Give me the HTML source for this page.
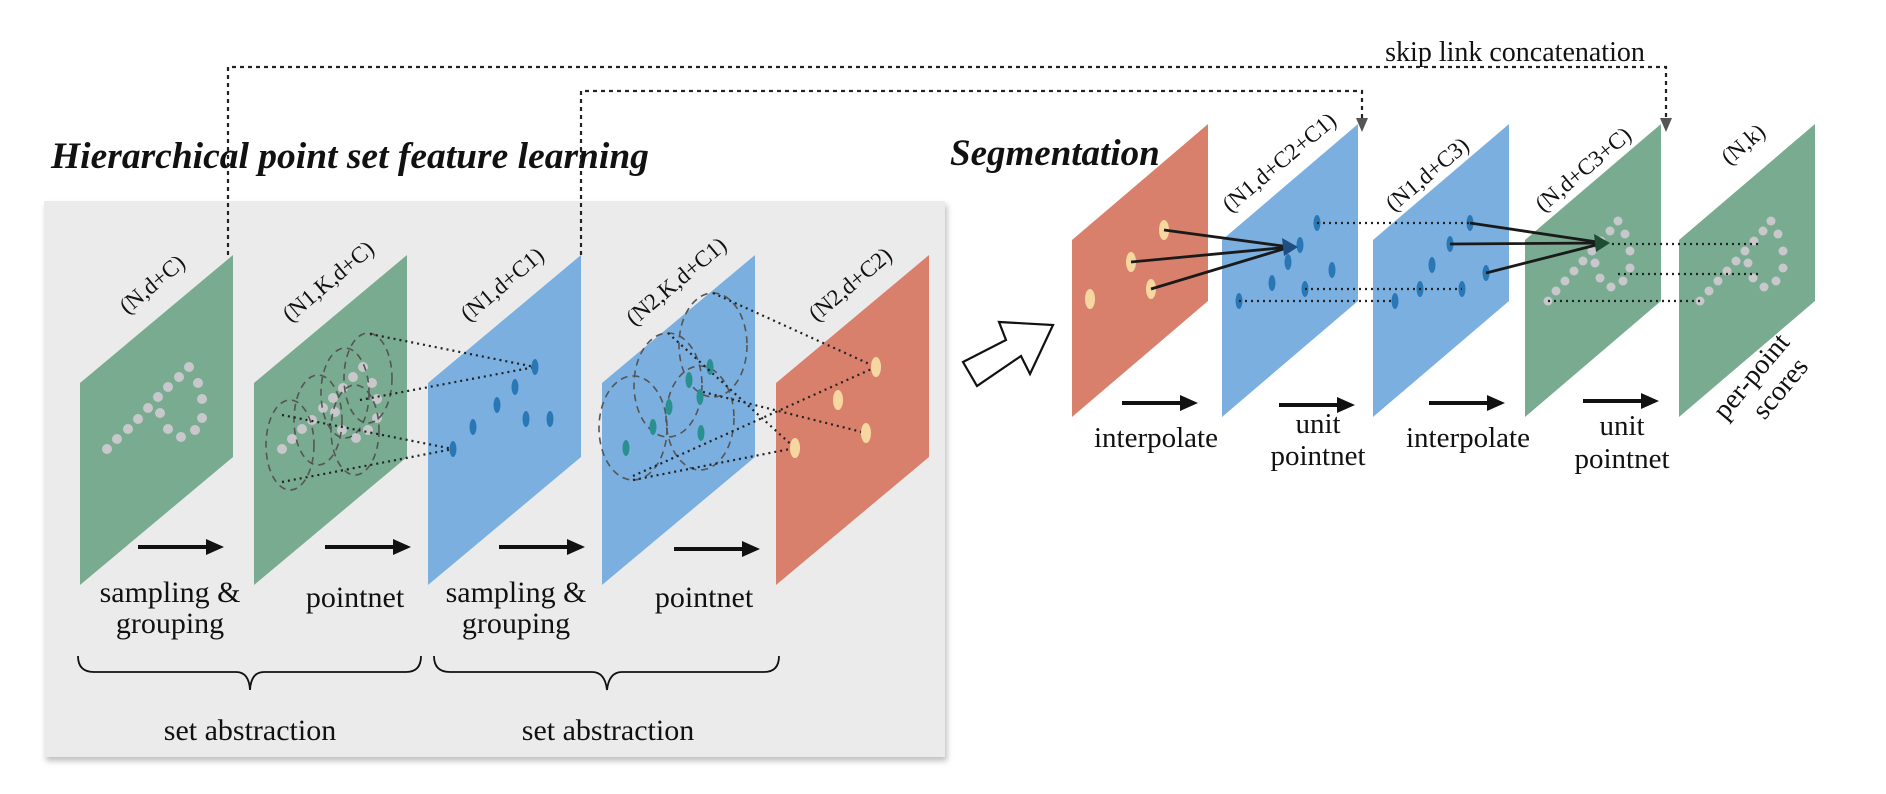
<!DOCTYPE html>
<html><head><meta charset="utf-8"><style>
html,body{margin:0;padding:0;background:#fff;}
svg{display:block;}
text{font-family:"Liberation Serif",serif;fill:#111;}
</style></head><body>
<svg width="1886" height="794" viewBox="0 0 1886 794" xmlns="http://www.w3.org/2000/svg">
<defs>
<filter id="sh" x="-5%" y="-5%" width="110%" height="115%"><feDropShadow dx="2" dy="4" stdDeviation="3" flood-color="#000" flood-opacity="0.25"/></filter>
<marker id="ah" markerWidth="18" markerHeight="16" refX="14" refY="8" orient="auto" markerUnits="userSpaceOnUse"><path d="M0,0 L18,8 L0,16 Z" fill="#111"/></marker>
</defs>
<rect x="44" y="201" width="901" height="556" fill="#ebebeb" filter="url(#sh)"/>
<text x="51" y="168" font-size="37.5" font-weight="bold" font-style="italic">Hierarchical point set feature learning</text>
<text x="950" y="165" font-size="37" font-weight="bold" font-style="italic">Segmentation</text>
<text x="1515" y="61" font-size="28" text-anchor="middle">skip link concatenation</text>
<g fill="none" stroke="#222" stroke-width="2.2" stroke-dasharray="4,4">
<path d="M228,255 V67 H1666 V120"/>
<path d="M581,255 V91 H1362 V120"/>
</g>
<path d="M1356,118 L1368,118 L1362,132 Z" fill="#555"/>
<path d="M1660,118 L1672,118 L1666,132 Z" fill="#555"/>
<g>
<polygon points="80,383 233,255 233,457 80,585" fill="#78ab90"/>
<polygon points="254,383 407,255 407,457 254,585" fill="#78ab90"/>
<polygon points="428,383 581,255 581,457 428,585" fill="#7aafe0"/>
<polygon points="602,383 755,255 755,457 602,585" fill="#7aafe0"/>
<polygon points="776,383 929,255 929,457 776,585" fill="#d9806c"/>
</g>
<g fill="#c8c8cc">
<circle cx="107" cy="449" r="5"/><circle cx="117" cy="439" r="5"/><circle cx="128" cy="429" r="5"/><circle cx="138" cy="419" r="5"/><circle cx="148" cy="408" r="5"/><circle cx="158" cy="397" r="5"/><circle cx="168" cy="387" r="5"/><circle cx="179" cy="377" r="5"/><circle cx="189" cy="367" r="5"/><circle cx="198" cy="383" r="5"/><circle cx="202" cy="399" r="5"/><circle cx="202" cy="418" r="5"/><circle cx="195" cy="430" r="5"/><circle cx="181" cy="437" r="5"/><circle cx="168" cy="429" r="5"/><circle cx="160" cy="413" r="5"/>
</g>
<g fill="#c8c8cc">
<circle cx="282" cy="449" r="5"/><circle cx="292" cy="439" r="5"/><circle cx="302" cy="429" r="5"/><circle cx="312" cy="420" r="5"/><circle cx="323" cy="408" r="5"/><circle cx="333" cy="398" r="5"/><circle cx="343" cy="388" r="5"/><circle cx="353" cy="377" r="5"/><circle cx="363" cy="367" r="5"/><circle cx="372" cy="383" r="5"/><circle cx="377" cy="399" r="5"/><circle cx="377" cy="418" r="5"/><circle cx="368" cy="430" r="5"/><circle cx="356" cy="438" r="5"/><circle cx="342" cy="430" r="5"/><circle cx="335" cy="412" r="5"/>
</g>
<g fill="none" stroke="#555" stroke-width="1.6" stroke-dasharray="7,5">
<ellipse cx="290" cy="445" rx="24" ry="45"/>
<ellipse cx="318" cy="420" rx="24" ry="45"/>
<ellipse cx="345" cy="393" rx="24" ry="45"/>
<ellipse cx="368" cy="378" rx="24" ry="45"/>
<ellipse cx="355" cy="430" rx="24" ry="45"/>
</g>
<g fill="none" stroke="#222" stroke-width="2.2" stroke-dasharray="2,4">
<path d="M370,334 L535,367 M360,400 L535,367 M282,415 L453,449 M282,482 L453,449"/>
</g>
<g fill="#2a77b5">
<ellipse cx="535" cy="367" rx="3.5" ry="8"/><ellipse cx="515" cy="387" rx="3.5" ry="8"/><ellipse cx="497" cy="405" rx="3.5" ry="8"/><ellipse cx="473" cy="427" rx="3.5" ry="8"/><ellipse cx="453" cy="449" rx="3.5" ry="8"/><ellipse cx="526" cy="419" rx="3.5" ry="8"/><ellipse cx="550" cy="419" rx="3.5" ry="8"/>
</g>
<g fill="none" stroke="#555" stroke-width="1.6" stroke-dasharray="7,5">
<ellipse cx="713" cy="345" rx="34" ry="52"/>
<ellipse cx="668" cy="385" rx="34" ry="52"/>
<ellipse cx="633" cy="428" rx="34" ry="52"/>
<ellipse cx="700" cy="418" rx="34" ry="52"/>
</g>
<g fill="#2a8f8f">
<ellipse cx="710" cy="367" rx="3.5" ry="8"/><ellipse cx="669" cy="407" rx="3.5" ry="8"/><ellipse cx="700" cy="397" rx="3.5" ry="8"/><ellipse cx="653" cy="427" rx="3.5" ry="8"/><ellipse cx="626" cy="448" rx="3.5" ry="8"/><ellipse cx="701" cy="433" rx="3.5" ry="8"/><ellipse cx="689" cy="380" rx="3.5" ry="8"/>
</g>
<g fill="none" stroke="#222" stroke-width="2.2" stroke-dasharray="2,4">
<path d="M713,293 L876,367 M668,333 L795,448 M633,476 L876,367 M703,392 L866,433 M633,480 L795,448"/>
</g>
<g fill="#f7d7a0">
<ellipse cx="876" cy="367" rx="5" ry="10"/><ellipse cx="838" cy="400" rx="5" ry="10"/><ellipse cx="866" cy="433" rx="5" ry="10"/><ellipse cx="795" cy="448" rx="5" ry="10"/>
</g>
<g font-size="23">
<text transform="translate(157,290) rotate(-40)" text-anchor="middle">(N,d+C)</text>
<text transform="translate(333,287) rotate(-40)" text-anchor="middle">(N1,K,d+C)</text>
<text transform="translate(507,290) rotate(-40)" text-anchor="middle">(N1,d+C1)</text>
<text transform="translate(681,287) rotate(-40)" text-anchor="middle">(N2,K,d+C1)</text>
<text transform="translate(855,290) rotate(-40)" text-anchor="middle">(N2,d+C2)</text>
</g>
<g stroke="#111" stroke-width="4" marker-end="url(#ah)">
<line x1="138" y1="547" x2="220" y2="547"/>
<line x1="325" y1="547" x2="407" y2="547"/>
<line x1="499" y1="547" x2="581" y2="547"/>
<line x1="674" y1="549" x2="756" y2="549"/>
</g>
<g font-size="30" text-anchor="middle">
<text x="170" y="602">sampling &amp;</text><text x="170" y="633">grouping</text>
<text x="355" y="607">pointnet</text>
<text x="516" y="602">sampling &amp;</text><text x="516" y="633">grouping</text>
<text x="704" y="607">pointnet</text>
<text x="250" y="740">set abstraction</text>
<text x="608" y="740">set abstraction</text>
</g>
<g fill="none" stroke="#111" stroke-width="1.8">
<path d="M78,656 Q78,672 94,672 H236 Q249,672 250,690 Q251,672 264,672 H406 Q421,672 421,656"/>
<path d="M434,656 Q434,672 450,672 H592 Q605,672 607,690 Q609,672 622,672 H764 Q779,672 779,656"/>
</g>
<polygon points="963,362 1006,340 999,322 1053,325 1030,374 1021,356 977,386" fill="#fff" stroke="#111" stroke-width="2.2"/>
<polygon points="1072,240 1208,124 1208,301 1072,417" fill="#d9806c"/>
<polygon points="1222,240 1358,124 1358,301 1222,417" fill="#7aafe0"/>
<polygon points="1373,240 1509,124 1509,301 1373,417" fill="#7aafe0"/>
<polygon points="1525,240 1661,124 1661,301 1525,417" fill="#78ab90"/>
<polygon points="1679,240 1815,124 1815,301 1679,417" fill="#78ab90"/>
<g fill="#f7d7a0">
<ellipse cx="1164" cy="230" rx="5" ry="10"/><ellipse cx="1131" cy="262" rx="5" ry="10"/><ellipse cx="1151" cy="289" rx="5" ry="10"/><ellipse cx="1090" cy="299" rx="5" ry="10"/>
</g>
<g fill="#2a77b5">
<ellipse cx="1300" cy="245" rx="3.5" ry="8"/><ellipse cx="1317" cy="223" rx="3.5" ry="8"/><ellipse cx="1288" cy="262" rx="3.5" ry="8"/><ellipse cx="1272" cy="283" rx="3.5" ry="8"/><ellipse cx="1332" cy="270" rx="3.5" ry="8"/><ellipse cx="1305" cy="289" rx="3.5" ry="8"/><ellipse cx="1239" cy="301" rx="3.5" ry="8"/>
<ellipse cx="1470" cy="223" rx="3.5" ry="8"/><ellipse cx="1450" cy="244" rx="3.5" ry="8"/><ellipse cx="1432" cy="265" rx="3.5" ry="8"/><ellipse cx="1420" cy="289" rx="3.5" ry="8"/><ellipse cx="1395" cy="301" rx="3.5" ry="8"/><ellipse cx="1462" cy="289" rx="3.5" ry="8"/><ellipse cx="1486" cy="273" rx="3.5" ry="8"/>
</g>
<g fill="#c8c8cc">
<circle cx="1548" cy="301" r="4.5"/><circle cx="1556" cy="291" r="4.5"/><circle cx="1565" cy="281" r="4.5"/><circle cx="1574" cy="271" r="4.5"/><circle cx="1583" cy="261" r="4.5"/><circle cx="1592" cy="251" r="4.5"/><circle cx="1601" cy="241" r="4.5"/><circle cx="1610" cy="231" r="4.5"/><circle cx="1618" cy="221" r="4.5"/><circle cx="1625" cy="234" r="4.5"/><circle cx="1630" cy="251" r="4.5"/><circle cx="1630" cy="268" r="4.5"/><circle cx="1623" cy="281" r="4.5"/><circle cx="1611" cy="287" r="4.5"/><circle cx="1600" cy="278" r="4.5"/><circle cx="1595" cy="263" r="4.5"/>
<circle cx="1700" cy="301" r="4.5"/><circle cx="1709" cy="291" r="4.5"/><circle cx="1718" cy="281" r="4.5"/><circle cx="1727" cy="271" r="4.5"/><circle cx="1736" cy="261" r="4.5"/><circle cx="1745" cy="251" r="4.5"/><circle cx="1754" cy="241" r="4.5"/><circle cx="1763" cy="231" r="4.5"/><circle cx="1771" cy="221" r="4.5"/><circle cx="1778" cy="234" r="4.5"/><circle cx="1783" cy="251" r="4.5"/><circle cx="1783" cy="268" r="4.5"/><circle cx="1776" cy="281" r="4.5"/><circle cx="1764" cy="287" r="4.5"/><circle cx="1753" cy="278" r="4.5"/><circle cx="1748" cy="263" r="4.5"/>
</g>
<g fill="none" stroke="#222" stroke-width="2.2" stroke-dasharray="2,4">
<path d="M1317,223 H1470 M1305,289 H1462 M1239,301 H1395 M1612,244 H1762 M1618,274 H1762 M1548,301 H1700"/>
</g>
<g stroke="#1a1a1a" stroke-width="2.8" fill="none">
<path d="M1164,230 L1290,247 M1131,262 L1290,247 M1151,289 L1290,247"/>
<path d="M1470,223 L1604,243 M1450,244 L1604,243 M1486,273 L1604,243"/>
</g>
<path d="M1298,247 L1282,238 L1284,256 Z" fill="#1f4f80"/>
<path d="M1610,243 L1594,234 L1596,252 Z" fill="#1d4d33"/>
<g font-size="23">
<text transform="translate(1284,168) rotate(-40)" text-anchor="middle">(N1,d+C2+C1)</text>
<text transform="translate(1432,180) rotate(-40)" text-anchor="middle">(N1,d+C3)</text>
<text transform="translate(1588,175) rotate(-40)" text-anchor="middle">(N,d+C3+C)</text>
<text transform="translate(1748,150) rotate(-40)" text-anchor="middle">(N,k)</text>
</g>
<g font-size="28" text-anchor="middle">
<text transform="translate(1758,382) rotate(-50)">per-point</text>
<text transform="translate(1787,394) rotate(-50)">scores</text>
</g>
<g stroke="#111" stroke-width="4" marker-end="url(#ah)">
<line x1="1122" y1="403" x2="1194" y2="403"/>
<line x1="1279" y1="405" x2="1351" y2="405"/>
<line x1="1429" y1="403" x2="1501" y2="403"/>
<line x1="1583" y1="401" x2="1655" y2="401"/>
</g>
<g font-size="29" text-anchor="middle">
<text x="1156" y="447">interpolate</text>
<text x="1318" y="433">unit</text><text x="1318" y="465">pointnet</text>
<text x="1468" y="447">interpolate</text>
<text x="1622" y="435">unit</text><text x="1622" y="468">pointnet</text>
</g>
</svg>
</body></html>
